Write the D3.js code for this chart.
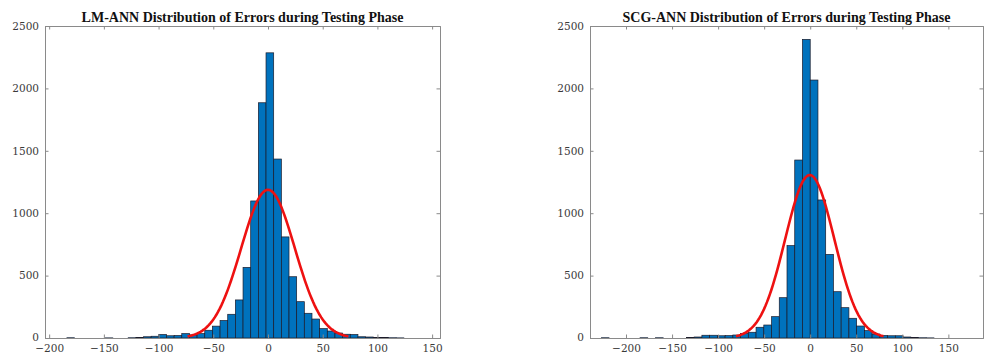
<!DOCTYPE html>
<html><head><meta charset="utf-8">
<script src="https://cdn.jsdelivr.net/npm/d3@7"></script>
<style>
html,body{margin:0;padding:0;background:#fff;}
svg{display:block;}
</style></head>
<body>
<svg id="chart" width="987" height="355"></svg>
<script>
// ---- Data ----
const yTicks = [0, 500, 1000, 1500, 2000, 2500];
const xTicks = [-200, -150, -100, -50, 0, 50, 100, 150];

// LM-ANN histogram: bin start edges and counts (bin width 7)
const lmBinWidth = 7;
const lmBinStarts = [-183.8, -148.8, -127.8, -120.8, -113.8, -106.8, -99.8, -92.8, -85.8, -78.8, -71.8, -64.8, -57.8, -50.8, -43.8, -36.8, -29.8, -22.8, -15.8, -8.8, -1.8, 5.2, 12.2, 19.2, 26.2, 33.2, 40.2, 47.2, 54.2, 61.2, 68.2, 75.2, 82.2, 89.2, 96.2, 103.2, 110.2, 117.2];
const lmCounts    = [2, 1, 2, 3, 10, 14, 28, 18, 20, 35, 25, 35, 62, 95, 140, 190, 305, 566, 1098, 1885, 2285, 1434, 810, 491, 291, 198, 152, 75, 56, 40, 30, 28, 10, 8, 5, 4, 2, 1];
// Normal fit of LM-ANN errors
const lmFit = {mu: 0, sigma: 24.5, peak: 1188};

// SCG-ANN histogram: bin start edges and counts (bin width 8.4)
const scgBinWidth = 8.4;
const scgBinStarts = [-226.8, -184.8, -168, -134.4, -126, -117.6, -109.2, -100.8, -92.4, -84, -75.6, -67.2, -58.8, -50.4, -42, -33.6, -25.2, -16.8, -8.4, 0, 8.4, 16.8, 25.2, 33.6, 42, 50.4, 58.8, 67.2, 75.6, 84, 92.4, 100.8, 109.2, 117.6, 126];
const scgCounts    = [2, 2, 2, 3, 8, 22, 22, 18, 19, 24, 37, 46, 86, 104, 171, 323, 740, 1426, 2393, 2067, 1106, 670, 371, 243, 158, 96, 59, 32, 20, 18, 18, 8, 4, 2, 1];
const scgFit = {mu: -0.5, sigma: 26.7, peak: 1306};

const panels = [
  {title: "LM-ANN Distribution of Errors during Testing Phase",
   starts: lmBinStarts, counts: lmCounts, bw: lmBinWidth, fit: lmFit,
   left: 45, right: 440, xDomain: [-203.8, 157.2]},
  {title: "SCG-ANN Distribution of Errors during Testing Phase",
   starts: scgBinStarts, counts: scgCounts, bw: scgBinWidth, fit: scgFit,
   left: 590, right: 983, xDomain: [-239.1, 187.6]}
];

const plotTop = 26, plotBottom = 338;
const svg = d3.select("#chart");
const axisColor = "#8a8a8a";
const textColor = "#3a3a3a";
const fmt = d => (d < 0 ? "\u2212" + Math.abs(d) : String(d));

panels.forEach(p => {
  const x = d3.scaleLinear().domain(p.xDomain).range([p.left, p.right]);
  const y = d3.scaleLinear().domain([0, 2500]).range([plotBottom, plotTop]);
  const g = svg.append("g");

  // bars
  g.selectAll("rect.bar").data(p.starts.map((s, i) => ({s, c: p.counts[i]})))
    .enter().append("rect")
    .attr("x", d => x(d.s))
    .attr("width", d => x(d.s + p.bw) - x(d.s))
    .attr("y", d => y(d.c))
    .attr("height", d => y(0) - y(d.c))
    .attr("fill", "#0072BD")
    .attr("stroke", "#1b1b2a")
    .attr("stroke-width", 0.7);

  // fitted normal curve over mu ± 3 sigma
  const f = p.fit;
  const xs = d3.range(0, 101).map(i => f.mu - 3 * f.sigma + i * 6 * f.sigma / 100);
  const line = d3.line()
    .x(v => x(v))
    .y(v => y(f.peak * Math.exp(-((v - f.mu) ** 2) / (2 * f.sigma * f.sigma))));
  g.append("path").attr("d", line(xs))
    .attr("fill", "none").attr("stroke", "#ee1111").attr("stroke-width", 2.6);

  // axes
  const xb = d3.axisBottom(x).tickValues(xTicks).tickSize(-3.5).tickFormat(fmt).tickPadding(7);
  const xt = d3.axisTop(x).tickValues(xTicks).tickSize(-3.5).tickFormat("");
  const yl = d3.axisLeft(y).tickValues(yTicks).tickSize(-3.5).tickFormat(d3.format("d")).tickPadding(6);
  const yr = d3.axisRight(y).tickValues(yTicks).tickSize(-3.5).tickFormat("");

  [[xb, `translate(0,${plotBottom})`], [xt, `translate(0,${plotTop})`],
   [yl, `translate(${p.left},0)`], [yr, `translate(${p.right},0)`]].forEach(([ax, tr]) => {
    const a = g.append("g").attr("transform", tr).call(ax);
    a.select(".domain").attr("stroke", axisColor).attr("stroke-width", 1);
    a.selectAll(".tick line").attr("stroke", axisColor);
    a.selectAll(".tick text").attr("fill", textColor)
      .style("font-family", "'DejaVu Serif', 'Liberation Serif', serif")
      .style("font-size", "10.5px");
  });
  // lift the y "0" label slightly so it clears the x labels
  g.selectAll("text").filter(function(){ return this.textContent === "0" && this.getAttribute("x") !== null && +this.getAttribute("x") < 0; })
    .attr("dy", "0.2em");

  g.append("text")
    .attr("x", (p.left + p.right) / 2).attr("y", 22)
    .attr("text-anchor", "middle")
    .style("font-family", "'Liberation Serif', 'Times New Roman', serif")
    .style("font-weight", "bold").style("font-size", "14px")
    .attr("fill", "#111")
    .text(p.title);
});
</script>
</body></html>
